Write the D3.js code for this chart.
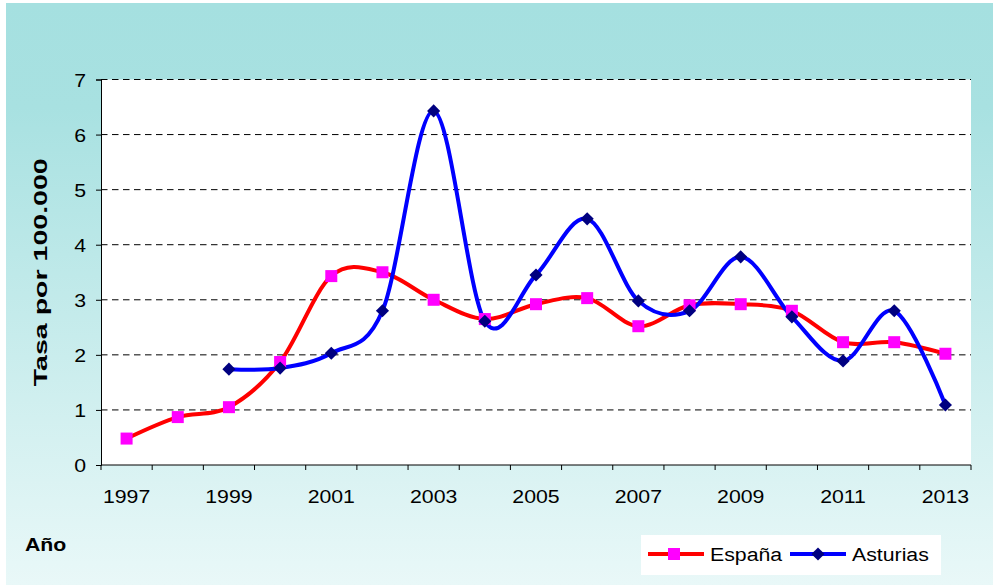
<!DOCTYPE html>
<html>
<head>
<meta charset="utf-8">
<script src="https://cdn.jsdelivr.net/npm/d3@7"></script>
<style>
  body { margin: 0; background: #fff; }
  text { font-family: "Liberation Sans", Arial, sans-serif; }
</style>
</head>
<body>
<div id="root"></div>
<script>
// data
var years = [1997, 1998, 1999, 2000, 2001, 2002, 2003, 2004, 2005, 2006, 2007, 2008, 2009, 2010, 2011, 2012, 2013];
var espana = [0.48, 0.87, 1.05, 1.87, 3.43, 3.50, 3.00, 2.65, 2.92, 3.03, 2.52, 2.90, 2.92, 2.80, 2.23, 2.23, 2.02];
var asturias = [null, null, 1.74, 1.76, 2.03, 2.80, 6.43, 2.61, 3.45, 4.47, 2.98, 2.80, 3.78, 2.69, 1.89, 2.80, 1.09];
var yTicks = [0, 1, 2, 3, 4, 5, 6, 7];
var yearLabels = [1997, 1999, 2001, 2003, 2005, 2007, 2009, 2011, 2013];

var w = 995, h = 587;
var margin = { top: 79.5, left: 101, right: 24, bottom: 122 };
var fs = 19, sx = 1.12; // text in the picture is a bit wide

var svg = d3.select("#root").append("svg").attr("width", w).attr("height", h);

// helper: horizontal text, stretched a little
function label(g, x0, y0, txt, anchor, size, bold) {
  return g.append("text")
    .attr("transform", "translate(" + x0 + "," + y0 + ") scale(" + sx + ",1)")
    .attr("text-anchor", anchor || "start")
    .attr("font-size", (size || fs) + "px")
    .attr("font-weight", bold ? "bold" : "normal")
    .attr("fill", "#000")
    .text(txt);
}

// background gradient
var grad = svg.append("defs").append("linearGradient").attr("id", "bg")
  .attr("x1", 0).attr("y1", 0).attr("x2", 0).attr("y2", 1);
grad.append("stop").attr("offset", "0%").attr("stop-color", "#a5e0e0");
grad.append("stop").attr("offset", "18%").attr("stop-color", "#a8e1e1");
grad.append("stop").attr("offset", "100%").attr("stop-color", "#e9f8f8");
svg.append("rect").attr("x", 6).attr("y", 3).attr("width", 987).attr("height", 582).attr("fill", "url(#bg)");

var x = d3.scaleBand().domain(years).range([margin.left, w - margin.right]);
var y = d3.scaleLinear().domain([0, 7]).range([h - margin.bottom, margin.top]);

// plot area
svg.append("rect").attr("x", margin.left).attr("y", y(7))
  .attr("width", x.range()[1] - margin.left).attr("height", y(0) - y(7)).attr("fill", "#fff");

// gridlines
svg.append("g").selectAll("line").data(yTicks.slice(1)).enter().append("line")
  .attr("x1", margin.left).attr("x2", x.range()[1])
  .attr("y1", function(d) { return y(d); }).attr("y2", function(d) { return y(d); })
  .attr("stroke", "#000").attr("stroke-width", 1).attr("stroke-dasharray", "6.5,4.5");

// y axis
var yAxis = d3.axisLeft(y).tickValues(yTicks).tickSize(5).tickFormat("");
var gy = svg.append("g").attr("transform", "translate(" + margin.left + ",0)").call(yAxis);
gy.select(".domain").attr("stroke", "#000");
gy.selectAll("line").attr("stroke", "#000");
yTicks.forEach(function(d) {
  label(svg, 86, y(d) + 7, d3.format("d")(d), "end");
});

// x axis, ticks between categories
var gx = svg.append("g").attr("transform", "translate(0," + y(0) + ")");
gx.append("line").attr("x1", margin.left).attr("x2", x.range()[1]).attr("stroke", "#000");
var bounds = years.map(function(d) { return x(d); }).concat([x.range()[1]]);
gx.selectAll(".tk").data(bounds).enter().append("line")
  .attr("x1", function(d) { return d; }).attr("x2", function(d) { return d; })
  .attr("y1", 0).attr("y2", 5).attr("stroke", "#000");
yearLabels.forEach(function(d) {
  label(gx, x(d) + x.bandwidth() / 2, 38, d, "middle");
});

// axis titles
svg.append("text").attr("transform", "translate(47," + (y(3.5)) + ") rotate(-90)")
  .attr("text-anchor", "middle").attr("font-size", "18px").attr("font-weight", "bold")
  .attr("textLength", 228).attr("lengthAdjust", "spacingAndGlyphs")
  .text("Tasa por 100.000");
label(svg, 25, 551, "Año", "start", 19, true);

// lines
var cx = function(i) { return x(years[i]) + x.bandwidth() / 2; };
var line = d3.line()
  .defined(function(d) { return d != null; })
  .x(function(d, i) { return cx(i); })
  .y(function(d) { return y(d); })
  .curve(d3.curveCardinal.tension(0));

svg.append("path").datum(espana).attr("d", line).attr("fill", "none").attr("stroke", "#ff0000").attr("stroke-width", 4);
svg.append("path").datum(asturias).attr("d", line).attr("fill", "none").attr("stroke", "#0000ff").attr("stroke-width", 4);

svg.append("g").selectAll("rect").data(espana).enter().append("rect")
  .attr("x", function(d, i) { return cx(i) - 6; })
  .attr("y", function(d) { return y(d) - 6; })
  .attr("width", 12).attr("height", 12).attr("fill", "#ff00ff");

var diamond = d3.symbol().type(d3.symbolDiamond2).size(110);
svg.append("g").selectAll("path").data(asturias.map(function(d, i) { return { v: d, i: i }; })
  .filter(function(d) { return d.v != null; })).enter().append("path")
  .attr("d", diamond)
  .attr("transform", function(d) { return "translate(" + cx(d.i) + "," + y(d.v) + ")"; })
  .attr("fill", "#000080");

// legend
var lg = svg.append("g");
lg.append("rect").attr("x", 641).attr("y", 535).attr("width", 300).attr("height", 40).attr("fill", "#fff");
lg.append("line").attr("x1", 648).attr("x2", 704).attr("y1", 554).attr("y2", 554).attr("stroke", "#ff0000").attr("stroke-width", 4);
lg.append("rect").attr("x", 668).attr("y", 548).attr("width", 12).attr("height", 12).attr("fill", "#ff00ff");
label(lg, 710, 561, "España");
lg.append("line").attr("x1", 790).attr("x2", 846).attr("y1", 554).attr("y2", 554).attr("stroke", "#0000ff").attr("stroke-width", 4);
lg.append("path").attr("d", diamond).attr("transform", "translate(818,554)").attr("fill", "#000080");
label(lg, 852, 561, "Asturias");
</script>
</body>
</html>
